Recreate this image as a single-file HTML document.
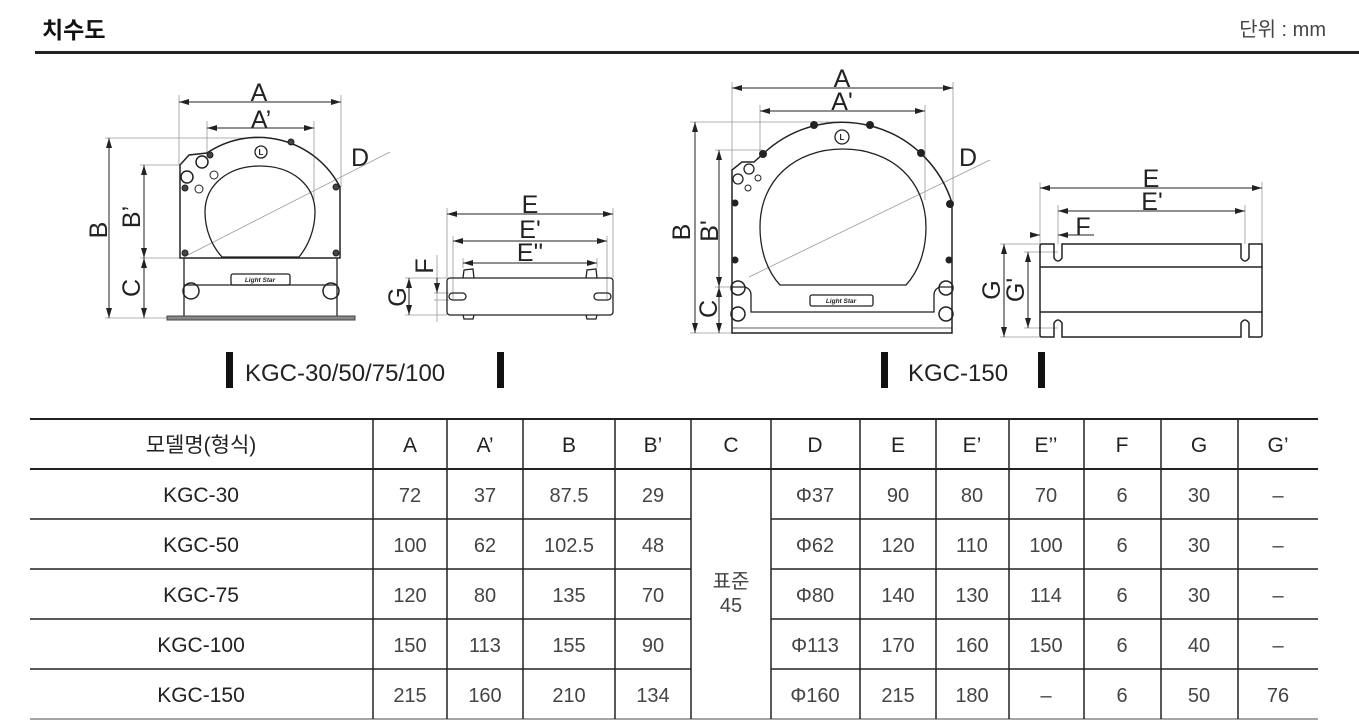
<!DOCTYPE html>
<html><head><meta charset="utf-8"><style>
html,body{margin:0;padding:0;background:#fff;}
svg{display:block;}
text{font-family:"Liberation Sans","Noto Sans CJK KR",sans-serif;}
</style></head><body>
<svg width="1359" height="727" viewBox="0 0 1359 727" xmlns="http://www.w3.org/2000/svg">
<defs>
<marker id="ar" viewBox="0 0 10 6" refX="10" refY="3" markerWidth="10" markerHeight="6" markerUnits="userSpaceOnUse" orient="auto-start-reverse"><path d="M0,0 L10,3 L0,6 Z" fill="#222"/></marker>
</defs>
<!-- header -->
<text x="42" y="38" font-size="23" font-weight="bold" fill="#111">치수도</text>
<text x="1326" y="36" font-size="20" fill="#444" text-anchor="end">단위 : mm</text>
<rect x="35" y="51" width="1324" height="3" fill="#222"/>

<g fill="none" stroke="#222" stroke-width="1">
<!-- ===== LEFT FRONT VIEW ===== -->
<g stroke="#999" stroke-width="0.8">
<line x1="179" y1="95" x2="179" y2="165"/><line x1="341" y1="95" x2="341" y2="187"/>
<line x1="207" y1="121" x2="207" y2="153"/><line x1="314" y1="121" x2="314" y2="200"/>
<line x1="105" y1="138" x2="259" y2="138"/><line x1="105" y1="318" x2="167" y2="318"/>
<line x1="140" y1="165" x2="180" y2="165"/><line x1="140" y1="258" x2="184" y2="258"/>
<line x1="184" y1="257" x2="390" y2="152"/>
</g>
<line x1="179" y1="102" x2="341" y2="102" marker-start="url(#ar)" marker-end="url(#ar)"/>
<line x1="207" y1="128" x2="314" y2="128" marker-start="url(#ar)" marker-end="url(#ar)"/>
<line x1="109" y1="138" x2="109" y2="318" marker-start="url(#ar)" marker-end="url(#ar)"/>
<line x1="144" y1="165" x2="144" y2="258" marker-start="url(#ar)" marker-end="url(#ar)"/>
<line x1="144" y1="258" x2="144" y2="318" marker-start="url(#ar)" marker-end="url(#ar)"/>
<path stroke-width="1.5" d="M180,258 L180,165 L189,155 L207,153 A92,92 0 0 1 340,187 L340,258 Z"/>
<path stroke-width="1.3" d="M222,257 C212,246 205,230 205,212 C205,185 228,166 260,166 C292,166 315,185 315,212 C315,230 308,246 299,257 Z"/>
<path stroke-width="1.3" d="M184,258 L184,318 L337,318 L337,258 M184,285 L337,285"/>
<rect x="167" y="316" width="188" height="4" fill="#888" stroke="#444"/>
<rect x="231" y="274" width="59" height="11" rx="2" stroke-width="1.3"/>
<circle cx="191" cy="291" r="8" stroke-width="1.5"/><circle cx="331" cy="291" r="8" stroke-width="1.5"/>
<circle cx="202" cy="162" r="6" stroke-width="1.5"/><circle cx="187" cy="177" r="6" stroke-width="1.5"/>
<circle cx="214" cy="175" r="4"/><circle cx="199" cy="189" r="4"/>
<circle cx="261" cy="152" r="6" stroke-width="1.3"/>
<g fill="#444"><circle cx="185" cy="188" r="3"/><circle cx="210" cy="155" r="3"/><circle cx="291" cy="142" r="3"/><circle cx="336" cy="187" r="3"/><circle cx="185" cy="253" r="3"/><circle cx="336" cy="253" r="3"/></g>

<!-- ===== LEFT SIDE VIEW ===== -->
<g stroke="#999" stroke-width="0.8">
<line x1="447" y1="208" x2="447" y2="278"/><line x1="613" y1="208" x2="613" y2="278"/>
<line x1="453" y1="236" x2="453" y2="300"/><line x1="607" y1="236" x2="607" y2="300"/>
<line x1="463" y1="258" x2="463" y2="268"/><line x1="597" y1="258" x2="597" y2="268"/>
<line x1="405" y1="278" x2="447" y2="278"/><line x1="405" y1="315" x2="447" y2="315"/>
<line x1="434" y1="293" x2="449" y2="293"/><line x1="434" y1="300" x2="449" y2="300"/>
<line x1="437" y1="255" x2="437" y2="322"/>
</g>
<line x1="447" y1="214" x2="613" y2="214" marker-start="url(#ar)" marker-end="url(#ar)"/>
<line x1="453" y1="241" x2="607" y2="241" marker-start="url(#ar)" marker-end="url(#ar)"/>
<line x1="463" y1="263" x2="597" y2="263" marker-start="url(#ar)" marker-end="url(#ar)"/>
<line x1="409" y1="278" x2="409" y2="315" marker-start="url(#ar)" marker-end="url(#ar)"/>
<line x1="437" y1="278" x2="437" y2="293" marker-end="url(#ar)"/>
<rect x="447" y="278" width="166" height="37" rx="3" stroke-width="1.3"/>
<path stroke-width="1.3" d="M463,278 L464,270 L473,269 L474,278 M586,278 L587,270 L596,269 L597,278 M463,315 L464,319 L473,319 L474,315 M586,315 L587,319 L596,319 L597,315"/>
<rect x="449" y="293" width="17" height="7" rx="3.5" stroke-width="1.3"/>
<rect x="594" y="293" width="17" height="7" rx="3.5" stroke-width="1.3"/>

<!-- ===== RIGHT FRONT VIEW ===== -->
<g stroke="#999" stroke-width="0.8">
<line x1="732" y1="82" x2="732" y2="170"/><line x1="953" y1="82" x2="953" y2="203"/>
<line x1="760" y1="105" x2="760" y2="154"/><line x1="925" y1="105" x2="925" y2="200"/>
<line x1="690" y1="122" x2="842" y2="122"/><line x1="690" y1="333" x2="732" y2="333"/>
<line x1="715" y1="150" x2="763" y2="150"/><line x1="715" y1="287" x2="746" y2="287"/>
<line x1="749" y1="277" x2="990" y2="160"/>
</g>
<line x1="732" y1="88" x2="953" y2="88" marker-start="url(#ar)" marker-end="url(#ar)"/>
<line x1="760" y1="111" x2="925" y2="111" marker-start="url(#ar)" marker-end="url(#ar)"/>
<line x1="695" y1="122" x2="695" y2="333" marker-start="url(#ar)" marker-end="url(#ar)"/>
<line x1="719" y1="150" x2="719" y2="287" marker-start="url(#ar)" marker-end="url(#ar)"/>
<line x1="719" y1="287" x2="719" y2="333" marker-start="url(#ar)" marker-end="url(#ar)"/>
<path stroke-width="1.5" d="M732,333 L732,170 L742,162 L754,162 L763,154 A115,115 0 0 1 952,203 L952,333 Z"/>
<path stroke-width="1.3" d="M780,285 C768,272 760,252 760,227 C760,180 795,149 843,149 C891,149 926,180 926,227 C926,252 918,272 906,285 Z"/>
<path stroke-width="1.3" d="M732,287 L745,287 Q751,289 751,295 L751,312 L934,312 L934,295 Q934,289 940,287 L952,287"/>
<line x1="732" y1="328" x2="952" y2="328" stroke-width="0.8"/>
<rect x="810" y="295" width="63" height="11" rx="2" stroke-width="1.3"/>
<circle cx="738" cy="288" r="7" stroke-width="1.5"/><circle cx="738" cy="314" r="7" stroke-width="1.5"/>
<circle cx="946" cy="288" r="7" stroke-width="1.5"/><circle cx="946" cy="314" r="7" stroke-width="1.5"/>
<circle cx="749" cy="169" r="5" stroke-width="1.3"/><circle cx="738" cy="179" r="5" stroke-width="1.3"/>
<circle cx="758" cy="178" r="3"/><circle cx="748" cy="188" r="3"/>
<circle cx="842" cy="137" r="7" stroke-width="1.3"/>
<g fill="#222"><circle cx="814" cy="125" r="3.5"/><circle cx="870" cy="125" r="3.5"/><circle cx="763" cy="154" r="3.5"/><circle cx="921" cy="153" r="3.5"/><circle cx="950" cy="204" r="3.5"/><circle cx="735" cy="203" r="3"/><circle cx="735" cy="260" r="3"/><circle cx="949" cy="260" r="3"/></g>

<!-- ===== RIGHT SIDE VIEW ===== -->
<g stroke="#999" stroke-width="0.8">
<line x1="1040" y1="182" x2="1040" y2="244"/><line x1="1262" y1="182" x2="1262" y2="244"/>
<line x1="1058" y1="205" x2="1058" y2="244"/><line x1="1245" y1="205" x2="1245" y2="244"/>
<line x1="1000" y1="244" x2="1040" y2="244"/><line x1="1000" y1="337" x2="1040" y2="337"/>
<line x1="1024" y1="252" x2="1058" y2="252"/><line x1="1024" y1="328" x2="1058" y2="328"/>
</g>
<line x1="1040" y1="188" x2="1262" y2="188" marker-start="url(#ar)" marker-end="url(#ar)"/>
<line x1="1058" y1="211" x2="1245" y2="211" marker-start="url(#ar)" marker-end="url(#ar)"/>
<line x1="1034" y1="235" x2="1040" y2="235" marker-end="url(#ar)"/>
<line x1="1058" y1="235" x2="1094" y2="235"/>
<line x1="1058" y1="235" x2="1064" y2="235" marker-start="url(#ar)"/>
<line x1="1004" y1="244" x2="1004" y2="337" marker-start="url(#ar)" marker-end="url(#ar)"/>
<line x1="1028" y1="252" x2="1028" y2="328" marker-start="url(#ar)" marker-end="url(#ar)"/>
<path stroke-width="1.5" d="M1042,244 L1054,244 L1054,258 Q1058,264 1062,258 L1062,244 L1241,244 L1241,258 Q1245,264 1249,258 L1249,244 L1262,244 L1262,335 Q1262,337 1260,337 L1249,337 L1249,323 Q1245,317 1241,323 L1241,337 L1062,337 L1062,323 Q1058,317 1054,323 L1054,337 L1042,337 Q1040,337 1040,335 L1040,246 Q1040,244 1042,244 Z"/>
<line x1="1040" y1="267" x2="1262" y2="267" stroke-width="1.5"/>
<line x1="1040" y1="312" x2="1262" y2="312" stroke-width="1.5"/>
</g>
<!-- small marks text -->
<g font-size="6.5" font-weight="bold" font-style="italic" fill="#222" text-anchor="middle">
<text x="260" y="282">Light Star</text><text x="841" y="303">Light Star</text>
</g>
<g font-size="8" font-weight="bold" fill="#222" text-anchor="middle"><text x="261" y="155">L</text><text x="842" y="140">L</text></g>

<!-- dimension labels -->
<g font-size="25" fill="#222" text-anchor="middle">
<text x="259" y="101">A</text><text x="261" y="128">A’</text>
<text x="360" y="166">D</text>
<text x="530" y="213">E</text><text x="530" y="238">E'</text><text x="530" y="261">E''</text>
<text x="842" y="87">A</text><text x="842" y="110">A'</text>
<text x="968" y="166">D</text>
<text x="1151" y="187">E</text><text x="1152" y="210">E'</text>
<text x="1083" y="235">F</text>
</g>
<g font-size="25" fill="#222" text-anchor="middle">
<text transform="translate(107,230) rotate(-90)">B</text>
<text transform="translate(140,217) rotate(-90)">B’</text>
<text transform="translate(140,288) rotate(-90)">C</text>
<text transform="translate(433,266) rotate(-90)">F</text>
<text transform="translate(406,297) rotate(-90)">G</text>
<text transform="translate(690,232) rotate(-90)">B</text>
<text transform="translate(718,231) rotate(-90)">B'</text>
<text transform="translate(717,309) rotate(-90)">C</text>
<text transform="translate(1000,290) rotate(-90)">G</text>
<text transform="translate(1024,290) rotate(-90)">G'</text>
</g>

<!-- captions -->
<rect x="226" y="352" width="7" height="36" fill="#111"/>
<text x="245" y="381" font-size="24" fill="#222">KGC-30/50/75/100</text>
<rect x="497" y="352" width="7" height="36" fill="#111"/>
<rect x="881" y="352" width="7" height="36" fill="#111"/>
<text x="908" y="381" font-size="24" fill="#222">KGC-150</text>
<rect x="1038" y="352" width="7" height="36" fill="#111"/>

<!-- table -->
<g stroke="#222" stroke-width="1.5">
<line x1="30" y1="419" x2="1318" y2="419" stroke-width="2"/>
<line x1="30" y1="469" x2="1318" y2="469" stroke-width="2"/>
<line x1="30" y1="519" x2="691" y2="519"/><line x1="771" y1="519" x2="1318" y2="519"/>
<line x1="30" y1="569" x2="691" y2="569"/><line x1="771" y1="569" x2="1318" y2="569"/>
<line x1="30" y1="619" x2="691" y2="619"/><line x1="771" y1="619" x2="1318" y2="619"/>
<line x1="30" y1="669" x2="691" y2="669"/><line x1="771" y1="669" x2="1318" y2="669"/>
<line x1="30" y1="719" x2="1318" y2="719" stroke="#888"/>
<line x1="373" y1="419" x2="373" y2="719"/><line x1="447" y1="419" x2="447" y2="719"/>
<line x1="523" y1="419" x2="523" y2="719"/><line x1="615" y1="419" x2="615" y2="719"/>
<line x1="691" y1="419" x2="691" y2="719"/><line x1="771" y1="419" x2="771" y2="719"/>
<line x1="860" y1="419" x2="860" y2="719"/><line x1="936" y1="419" x2="936" y2="719"/>
<line x1="1009" y1="419" x2="1009" y2="719"/><line x1="1084" y1="419" x2="1084" y2="719"/>
<line x1="1161" y1="419" x2="1161" y2="719"/><line x1="1238" y1="419" x2="1238" y2="719"/>
</g>
<g font-size="21" fill="#222" text-anchor="middle">
<text x="201" y="452">모델명(형식)</text>
<text x="410" y="452">A</text><text x="485" y="452">A’</text><text x="569" y="452">B</text><text x="653" y="452">B’</text>
<text x="731" y="452">C</text><text x="815" y="452">D</text><text x="898" y="452">E</text><text x="972" y="452">E’</text>
<text x="1046" y="452">E’’</text><text x="1122" y="452">F</text><text x="1199" y="452">G</text><text x="1278" y="452">G’</text>
<text x="201" y="502">KGC-30</text><text x="201" y="552">KGC-50</text><text x="201" y="602">KGC-75</text>
<text x="201" y="652">KGC-100</text><text x="201" y="702">KGC-150</text>
</g>
<g font-size="20" fill="#444" text-anchor="middle">
<text x="410" y="502">72</text><text x="485" y="502">37</text><text x="569" y="502">87.5</text><text x="653" y="502">29</text>
<text x="815" y="502">Φ37</text><text x="898" y="502">90</text><text x="972" y="502">80</text><text x="1046" y="502">70</text><text x="1122" y="502">6</text><text x="1199" y="502">30</text><text x="1278" y="502">–</text>
<text x="410" y="552">100</text><text x="485" y="552">62</text><text x="569" y="552">102.5</text><text x="653" y="552">48</text>
<text x="815" y="552">Φ62</text><text x="898" y="552">120</text><text x="972" y="552">110</text><text x="1046" y="552">100</text><text x="1122" y="552">6</text><text x="1199" y="552">30</text><text x="1278" y="552">–</text>
<text x="410" y="602">120</text><text x="485" y="602">80</text><text x="569" y="602">135</text><text x="653" y="602">70</text>
<text x="815" y="602">Φ80</text><text x="898" y="602">140</text><text x="972" y="602">130</text><text x="1046" y="602">114</text><text x="1122" y="602">6</text><text x="1199" y="602">30</text><text x="1278" y="602">–</text>
<text x="410" y="652">150</text><text x="485" y="652">113</text><text x="569" y="652">155</text><text x="653" y="652">90</text>
<text x="815" y="652">Φ113</text><text x="898" y="652">170</text><text x="972" y="652">160</text><text x="1046" y="652">150</text><text x="1122" y="652">6</text><text x="1199" y="652">40</text><text x="1278" y="652">–</text>
<text x="410" y="702">215</text><text x="485" y="702">160</text><text x="569" y="702">210</text><text x="653" y="702">134</text>
<text x="815" y="702">Φ160</text><text x="898" y="702">215</text><text x="972" y="702">180</text><text x="1046" y="702">–</text><text x="1122" y="702">6</text><text x="1199" y="702">50</text><text x="1278" y="702">76</text>
<text x="731" y="588">표준</text><text x="731" y="612">45</text>
</g>
</svg>
</body></html>
